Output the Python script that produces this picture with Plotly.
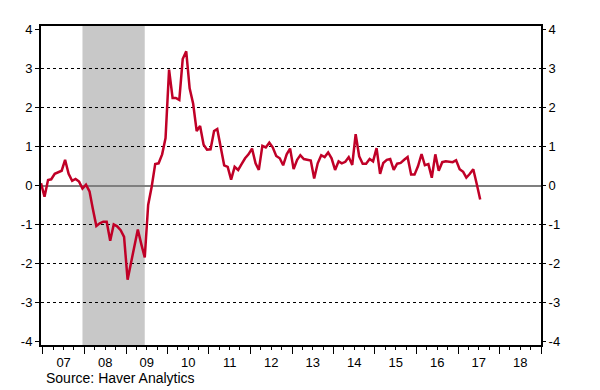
import pandas as pd
import plotly.graph_objects as go

# Monthly values, Dec 2006 .. Jul 2017
values = [
    0.06,
    -0.29, 0.14, 0.16, 0.30, 0.34, 0.38, 0.66, 0.30, 0.12, 0.17, 0.10, -0.08,   # 2007
    0.02, -0.15, -0.60, -1.04, -0.97, -0.93, -0.93, -1.42, -1.00, -1.05, -1.15, -1.32,  # 2008
    -2.42, -1.97, -1.52, -1.13, -1.50, -1.85, -0.50, -0.03, 0.55, 0.57, 0.80, 1.22,  # 2009
    2.98, 2.25, 2.25, 2.20, 3.25, 3.45, 2.50, 2.10, 1.40, 1.53, 1.05, 0.92,   # 2010
    0.93, 1.40, 1.45, 0.95, 0.52, 0.48, 0.15, 0.48, 0.40, 0.55, 0.70, 0.80,   # 2011
    0.95, 0.57, 0.40, 1.02, 0.98, 1.10, 0.98, 0.76, 0.70, 0.52, 0.80, 0.95,   # 2012
    0.42, 0.66, 0.78, 0.68, 0.66, 0.64, 0.18, 0.57, 0.78, 0.73, 0.85, 0.70,   # 2013
    0.40, 0.62, 0.57, 0.61, 0.73, 0.53, 1.32, 0.75, 0.56, 0.56, 0.68, 0.62,   # 2014
    0.96, 0.30, 0.58, 0.66, 0.68, 0.40, 0.56, 0.58, 0.66, 0.73, 0.28, 0.28,   # 2015
    0.50, 0.81, 0.52, 0.55, 0.20, 0.80, 0.38, 0.60, 0.62, 0.61, 0.60, 0.65,   # 2016
    0.42, 0.35, 0.20, 0.30, 0.42, 0.03, -0.36,                                # 2017
]
dates = pd.date_range("2006-12-01", periods=len(values), freq="MS") + pd.Timedelta(days=14)

years = list(range(2007, 2019))
year_labels = ["07", "08", "09", "10", "11", "12", "13", "14", "15", "16", "17", "18"]
y_ticks = [-4, -3, -2, -1, 0, 1, 2, 3, 4]
y_labels = [str(v) for v in y_ticks]
grid_levels = [-3, -2, -1, 1, 2, 3]
recession = ("2007-12-15", "2009-06-15")
x_range = ["2006-12-15", "2019-01-01"]
y_range = [-4.1, 4.1]

year_ticks = [f"{y}-01-01" for y in years + [2019]]
quarter_ticks = [f"{y}-{m:02d}-01" for y in years for m in (4, 7, 10)]
mid_ticks = [f"{y}-07-02" for y in years]

font = "Liberation Sans, Arial, sans-serif"

fig = go.Figure()
fig.add_trace(go.Scatter(x=dates, y=values, mode="lines",
                         line=dict(color="#c00027", width=2.5),
                         showlegend=False, hoverinfo="skip"))
# helper invisible traces for secondary axes
fig.add_trace(go.Scatter(x=[dates[0]], y=[0], xaxis="x2", yaxis="y2",
                         mode="markers", marker=dict(opacity=0),
                         showlegend=False, hoverinfo="skip"))

fig.add_shape(type="rect", xref="x", yref="paper",
              x0=recession[0], x1=recession[1], y0=0, y1=1,
              fillcolor="#c8c8c8", line_width=0, layer="below")

fig.update_layout(
    width=600, height=390, autosize=False,
    margin=dict(l=41, r=59, t=26, b=45),
    plot_bgcolor="white", paper_bgcolor="white",
    font=dict(family=font, size=13, color="black"),
    xaxis=dict(
        type="date", range=x_range, automargin=False,
        showline=True, linecolor="black", linewidth=2, mirror=True,
        tickmode="array", tickvals=year_ticks, ticks="outside",
        ticklen=7, tickwidth=1, tickcolor="black",
        showticklabels=False, showgrid=False, zeroline=False,
        minor=dict(tickmode="array", tickvals=quarter_ticks, ticks="outside",
                   ticklen=3, tickwidth=1, tickcolor="black", showgrid=False),
    ),
    xaxis2=dict(
        type="date", range=x_range, overlaying="x", anchor="y", side="bottom",
        automargin=False,
        tickmode="array", tickvals=mid_ticks, ticktext=year_labels,
        ticks="outside", ticklen=5, tickcolor="rgba(0,0,0,0)",
        showline=False, showgrid=False, zeroline=False,
        tickfont=dict(family=font, size=13, color="black"),
    ),
    yaxis=dict(
        range=y_range, automargin=False,
        tickmode="array", tickvals=y_ticks, ticktext=y_labels,
        ticks="outside", ticklen=4, tickwidth=1, tickcolor="black",
        showline=True, linecolor="black", linewidth=2, mirror=True,
        showgrid=False, zeroline=True, zerolinecolor="#7f7f7f", zerolinewidth=2,
        tickfont=dict(family=font, size=13, color="black"),
        minor=dict(tickmode="array", tickvals=grid_levels, ticks="",
                   showgrid=True, gridcolor="black", gridwidth=1, griddash="dot"),
    ),
    yaxis2=dict(
        range=y_range, overlaying="y", side="right", anchor="x", automargin=False,
        tickmode="array", tickvals=y_ticks, ticktext=y_labels,
        ticks="outside", ticklen=4, tickwidth=1, tickcolor="black",
        showline=False, showgrid=False, zeroline=False,
        tickfont=dict(family=font, size=13, color="black"),
    ),
    annotations=[dict(text="Source: Haver Analytics", xref="paper", yref="paper",
                      x=0.006, y=-0.102, xanchor="left", yanchor="middle",
                      showarrow=False, font=dict(family=font, size=14, color="black"))],
)

fig.write_html("out.html", config={"displayModeBar": False},
               post_script="document.body.style.margin='0px';")
